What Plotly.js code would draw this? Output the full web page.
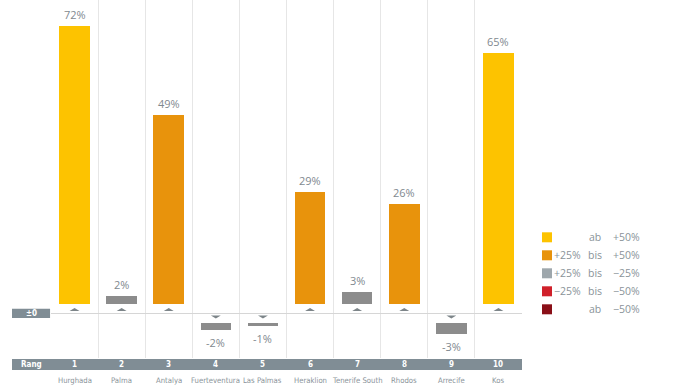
<!DOCTYPE html>
<html>
<head>
<meta charset="utf-8">
<script src="https://cdn.plot.ly/plotly-3.0.1.min.js"></script>
<style>html,body{margin:0;padding:0;background:#fff;}#chart{width:692px;height:390px;}</style>
</head>
<body>
<div id="chart"></div>
<script>
// ---- data ----
const cities = ['Hurghada','Palma','Antalya','Fuerteventura','Las Palmas','Heraklion','Tenerife South','Rhodos','Arrecife','Kos'];
const ranks = [1,2,3,4,5,6,7,8,9,10];
const changes = [72,2,49,-2,-1,29,3,26,-3,65];
const legendFrom = ['', '+25%', '+25%', '\u221225%', ''];
const legendWord = ['ab', 'bis', 'bis', 'bis', 'ab'];
const legendTo = ['+50%', '+50%', '\u221225%', '\u221250%', '\u221250%'];
const legendColors = ['#fdc300','#e8930c','#9ea7ac','#d0202a','#8a0f17'];

// ---- styling helpers ----
const GAP = 2.4;           // visual gap between zero line and bars (in % units)
const barGray = '#8c8c8c';
const textGray = '#7f898f';
const bandColor = '#808d95';
function barColor(v){
  if (v >= 50) return legendColors[0];
  if (v >= 25) return legendColors[1];
  if (v > -25) return barGray;
  if (v > -50) return legendColors[3];
  return legendColors[4];
}

const bars = {
  type:'bar', x: ranks, y: changes,
  base: changes.map(v => v >= 0 ? GAP : -GAP),
  width: 0.65,
  marker:{color: changes.map(barColor), line:{width:0}},
  hoverinfo:'none', showlegend:false
};

// small triangles next to the zero line
const tx = [], ty = [];
changes.forEach((v,i) => {
  const c = ranks[i], s = v >= 0 ? 1 : -1;
  tx.push(c-0.105, c+0.105, c, null);
  ty.push(s*0.6, s*0.6, s*1.35, null);
});
const tris = {
  type:'scatter', mode:'lines', x: tx, y: ty, fill:'toself',
  fillcolor:'#7d8589', line:{width:0, color:'#7d8589'},
  hoverinfo:'none', showlegend:false
};

const annotations = [];
const shapes = [];
const F = '"Open Sans", sans-serif';
const NARROW = '"DejaVu Sans Condensed", "Liberation Sans Narrow", Roboto, sans-serif';

changes.forEach((v,i) => {
  const pos = v >= 0;
  annotations.push({
    x: ranks[i], y: (pos ? GAP : -GAP) + v, xref:'x', yref:'y',
    text: v + '%', showarrow:false, xanchor:'center',
    yanchor: pos ? 'bottom' : 'top', yshift: pos ? 2 : -3,
    font:{family:F, size:11, color:textGray}
  });
  // rank numbers in band
  annotations.push({
    x: ranks[i], y: -0.019, xref:'x', yref:'paper', text: '<b>' + ranks[i] + '</b>',
    showarrow:false, xanchor:'center', yanchor:'middle', font:{family:NARROW, size:8, color:'#ffffff'}
  });
  // city names
  annotations.push({
    x: ranks[i], y: -0.062, xref:'x', yref:'paper', text: cities[i],
    showarrow:false, xanchor:'center', yanchor:'middle', font:{family:NARROW, size:7.7, color:'#8a9399'}
  });
});

// Rang band
shapes.push({type:'rect', xref:'paper', yref:'paper', x0:-0.0828, x1:1, y0:-0.0335, y1:-0.003,
  fillcolor:bandColor, line:{width:0}, layer:'above'});
annotations.push({x:-0.0414, y:-0.019, xref:'paper', yref:'paper', text:'<b>Rang</b>',
  showarrow:false, xanchor:'center', yanchor:'middle', font:{family:NARROW, size:8, color:'#ffffff'}});
// ±0 box
shapes.push({type:'rect', xref:'paper', yref:'y', x0:-0.0828, x1:-0.002, y0:-1.2, y1:1.2,
  fillcolor:bandColor, line:{width:0}});
annotations.push({x:-0.0414, y:0, xref:'paper', yref:'y', text:'<b>\u00b10</b>',
  showarrow:false, xanchor:'center', yanchor:'middle', font:{family:NARROW, size:8, color:'#ffffff'}});

// custom legend
const legY = [237.3, 255.3, 273.3, 291.3, 309.3];
legendColors.forEach((c,k) => {
  const py = (358 - legY[k]) / 358;
  const h = 5 / 358;
  shapes.push({type:'rect', xref:'paper', yref:'paper', x0:(542-51)/471, x1:(552-51)/471,
    y0:py-h, y1:py+h, fillcolor:c, line:{width:0}});
  const ft = {family:F, size:10.5, color:'#8a9399'};
  if (legendFrom[k]) annotations.push({x:(583-51)/471, y:py, xref:'paper', yref:'paper',
    text:legendFrom[k], showarrow:false, xanchor:'right', yanchor:'middle', font:ft});
  annotations.push({x:(595-51)/471, y:py, xref:'paper', yref:'paper',
    text:legendWord[k], showarrow:false, xanchor:'center', yanchor:'middle', font:ft});
  annotations.push({x:(611-51)/471, y:py, xref:'paper', yref:'paper',
    text:legendTo[k], showarrow:false, xanchor:'left', yanchor:'middle', font:ft});
});

const layout = {
  width:692, height:390,
  margin:{l:51, r:170, t:0, b:32},
  paper_bgcolor:'#ffffff', plot_bgcolor:'#ffffff',
  showlegend:false,
  xaxis:{range:[0.5,10.5], tick0:0.5, dtick:1, showgrid:true, gridcolor:'#e6e6e6', gridwidth:1,
    showticklabels:false, ticks:'', zeroline:false, showline:false, fixedrange:true},
  yaxis:{range:[-11.58, 81.17], showgrid:false, zeroline:true, zerolinecolor:'#d6d6d6', zerolinewidth:1,
    showticklabels:false, ticks:'', showline:false, fixedrange:true},
  annotations: annotations, shapes: shapes, bargap:0
};

Plotly.newPlot('chart', [bars, tris], layout, {displayModeBar:false, staticPlot:true});
</script>
</body>
</html>
